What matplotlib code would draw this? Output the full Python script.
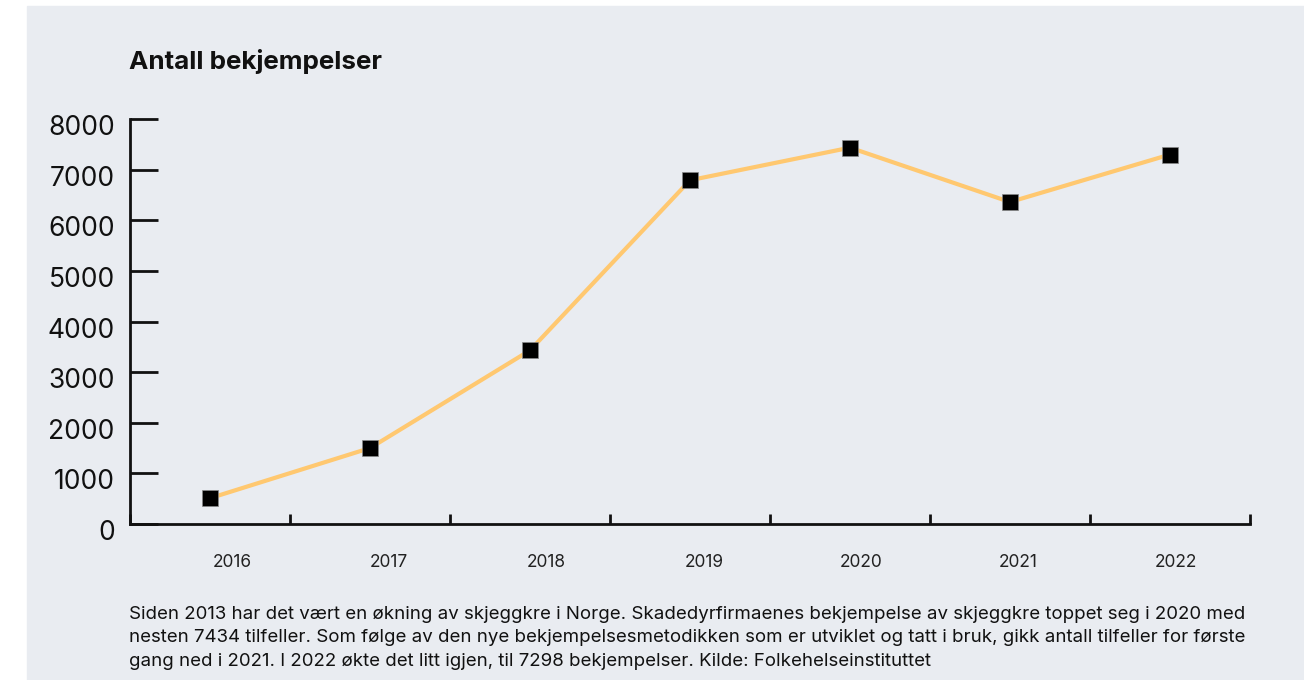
import matplotlib.pyplot as plt
from matplotlib.patches import Rectangle
from matplotlib.transforms import ScaledTranslation

aar = ['2016', '2017', '2018', '2019', '2020', '2021', '2022']
bekjempelser = [510, 1500, 3430, 6790, 7434, 6360, 7298]
y_ticks = [0, 1000, 2000, 3000, 4000, 5000, 6000, 7000, 8000]

tittel = 'Antall bekjempelser'
tekst = ('Siden 2013 har det vært en økning av skjeggkre i Norge. Skadedyrfirmaenes bekjempelse av skjeggkre toppet seg i 2020 med\n'
         'nesten 7434 tilfeller. Som følge av den nye bekjempelsesmetodikken som er utviklet og tatt i bruk, gikk antall tilfeller for første\n'
         'gang ned i 2021. I 2022 økte det litt igjen, til 7298 bekjempelser. Kilde: Folkehelseinstituttet')

plt.rcParams['font.family'] = ['Inter', 'DejaVu Sans']
bg = '#e9ecf1'

fig = plt.figure(figsize=(13.04, 6.8), dpi=100)
fig.patches.append(Rectangle((27 / 1304, 0), 1 - 27 / 1304, 1 - 6 / 680,
                             transform=fig.transFigure, color=bg, zorder=-5))

ax = fig.add_axes([130 / 1304, 1 - 524 / 680, 1120 / 1304, 405 / 680])
ax.set_zorder(2)
ax.patch.set_alpha(0)

x = list(range(len(aar)))
ax.plot(x, bekjempelser, color='#ffc870', lw=3, zorder=2, clip_on=False)
ax.plot(x, bekjempelser, ls='none', marker='s', ms=11, color='black',
        mec='#888888', mew=0.5, zorder=3, clip_on=False)

ax.set_xlim(-0.5, len(aar) - 0.5)
ax.set_ylim(0, 8000)
ax.set_yticks(y_ticks)
ax.set_yticklabels([str(v) for v in y_ticks], fontsize=19)
ax.tick_params(axis='y', direction='in', length=20, width=2, pad=11, colors='#111111')
# etikettene står litt lavere enn tick-strekene
ned = ScaledTranslation(0, -6 / 100, fig.dpi_scale_trans)
for lab in ax.get_yticklabels():
    lab.set_transform(lab.get_transform() + ned)

ax.set_xticks([i - 0.5 for i in range(len(aar) + 1)])
ax.set_xticklabels([])
ax.tick_params(axis='x', direction='in', length=7, width=2, colors='#111111')
for i, a in enumerate(aar):
    ax.text(0.1375 + 0.983 * i, -0.075, a, transform=ax.get_xaxis_transform(),
            ha='center', va='top', fontsize=12.5, color='#222222')

for s in ['top', 'right']:
    ax.spines[s].set_visible(False)
for s in ['left', 'bottom']:
    ax.spines[s].set_linewidth(2)
    ax.spines[s].set_color('#111111')

fig.text(129 / 1304, 1 - 62 / 680, tittel, fontsize=18.7, fontweight='bold',
         va='center', ha='left', color='#111111')
fig.text(129 / 1304, 1 - 606 / 680, tekst, fontsize=13.45, va='top', ha='left',
         linespacing=1.5, color='#111111')

fig.savefig('out.png', dpi=100)
